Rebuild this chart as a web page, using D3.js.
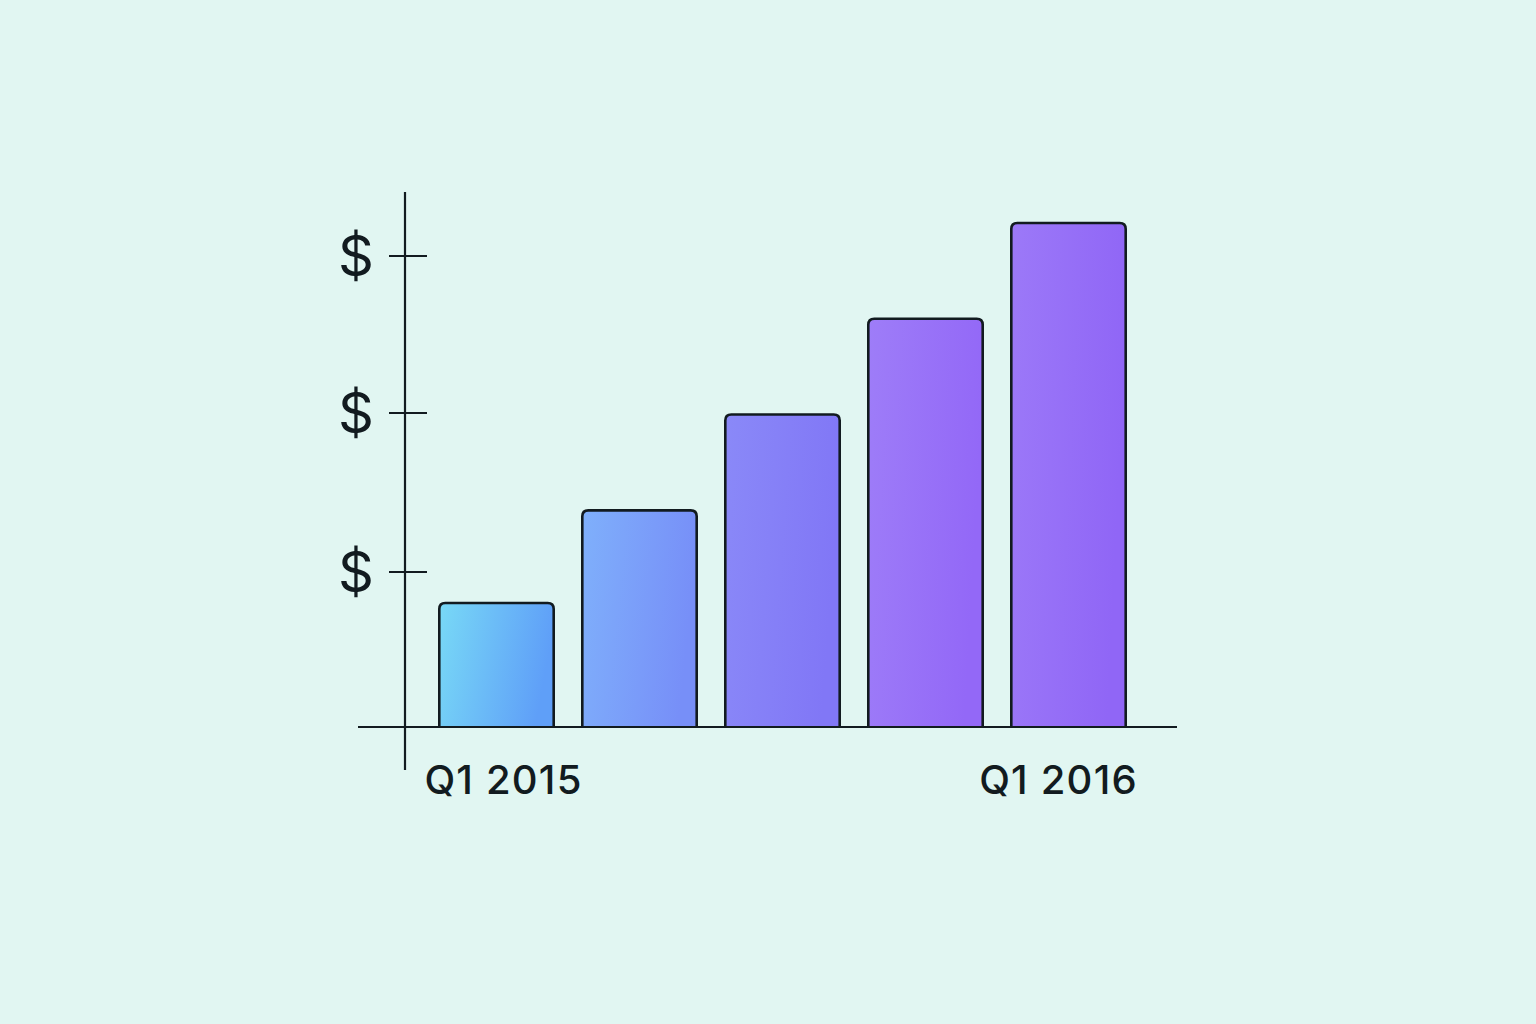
<!DOCTYPE html>
<html><head><meta charset="utf-8">
<script src="https://cdn.jsdelivr.net/npm/d3@7"></script>
<style>html,body{margin:0;padding:0;background:#e1f6f2;}svg{display:block;}</style>
</head><body>
<script>
const categories = ["Q1 2015","Q2 2015","Q3 2015","Q4 2015","Q1 2016"];
const values = [0.79, 1.38, 1.99, 2.60, 3.21];
const tickValues = [1, 2, 3];
const tickLabels = ["$", "$", "$"];
const xLabels = ["Q1 2015", "", "", "", "Q1 2016"];
const colorsLeft = ["#78d9f6", "#7fb0fb", "#8a89f8", "#9e7df8", "#9c79f8"];
const colorsRight = ["#5f9ff8", "#778ff8", "#8177f6", "#9368f7", "#9066f6"];

const W = 1536, H = 1024;
const svg = d3.select("body").append("svg").attr("width", W).attr("height", H);
svg.append("rect").attr("width", W).attr("height", H).attr("fill", "#e1f6f2");

const x = d3.scaleBand().domain(categories).range([425, 1140]).paddingInner(0.2).paddingOuter(0.1);
const y = d3.scaleLinear().domain([0, 3]).range([727, 256]);

const defs = svg.append("defs");
categories.forEach((c, i) => {
  const g = defs.append("linearGradient").attr("id", "g" + i)
    .attr("x1", "0%").attr("y1", "0%").attr("x2", "100%").attr("y2", "20%");
  g.append("stop").attr("offset", "0%").attr("stop-color", colorsLeft[i]);
  g.append("stop").attr("offset", "100%").attr("stop-color", colorsRight[i]);
});

const ink = "#121b20";
const r = 6;
function barPath(d, i) {
  const x0 = x(categories[i]), x1 = x0 + x.bandwidth();
  const yt = y(d), yb = y(0);
  return `M${x0},${yb} L${x0},${yt + r} Q${x0},${yt} ${x0 + r},${yt} L${x1 - r},${yt} Q${x1},${yt} ${x1},${yt + r} L${x1},${yb}`;
}
svg.append("g").selectAll("path").data(values).join("path")
  .attr("d", (d, i) => barPath(d, i))
  .attr("fill", (d, i) => `url(#g${i})`)
  .attr("stroke", ink).attr("stroke-width", 2.6).attr("stroke-linejoin", "round");

// y axis line
svg.append("line").attr("x1", 405).attr("x2", 405).attr("y1", 192).attr("y2", 770)
  .attr("stroke", ink).attr("stroke-width", 2.2);
// x axis line
svg.append("line").attr("x1", 358).attr("x2", 1177).attr("y1", y(0)).attr("y2", y(0))
  .attr("stroke", ink).attr("stroke-width", 2.2);

// ticks
const tg = svg.append("g").selectAll("g").data(tickValues).join("g")
  .attr("transform", d => `translate(0,${y(d) + (d === 1 ? 2 : 0)})`);
tg.append("line").attr("x1", 389).attr("x2", 427).attr("stroke", ink).attr("stroke-width", 2.2);
tg.append("text").text((d, i) => tickLabels[i])
  .attr("x", 374).attr("y", 0).attr("dy", "0.36em")
  .attr("text-anchor", "end")
  .attr("font-family", "Inter, 'Open Sans', sans-serif")
  .attr("font-size", 56).attr("font-weight", 400).attr("fill", ink);

// x labels
const xOffsets = [7, 0, 0, 0, -10];
svg.append("g").selectAll("text").data(categories).join("text")
  .text((d, i) => xLabels[i])
  .attr("x", (d, i) => x(d) + x.bandwidth() / 2 + xOffsets[i])
  .attr("y", 794)
  .attr("text-anchor", "middle")
  .attr("font-family", "Inter, 'Open Sans', sans-serif")
  .attr("letter-spacing", 1.2)
  .attr("font-size", 40).attr("font-weight", 500).attr("fill", ink);
</script>
</body></html>
